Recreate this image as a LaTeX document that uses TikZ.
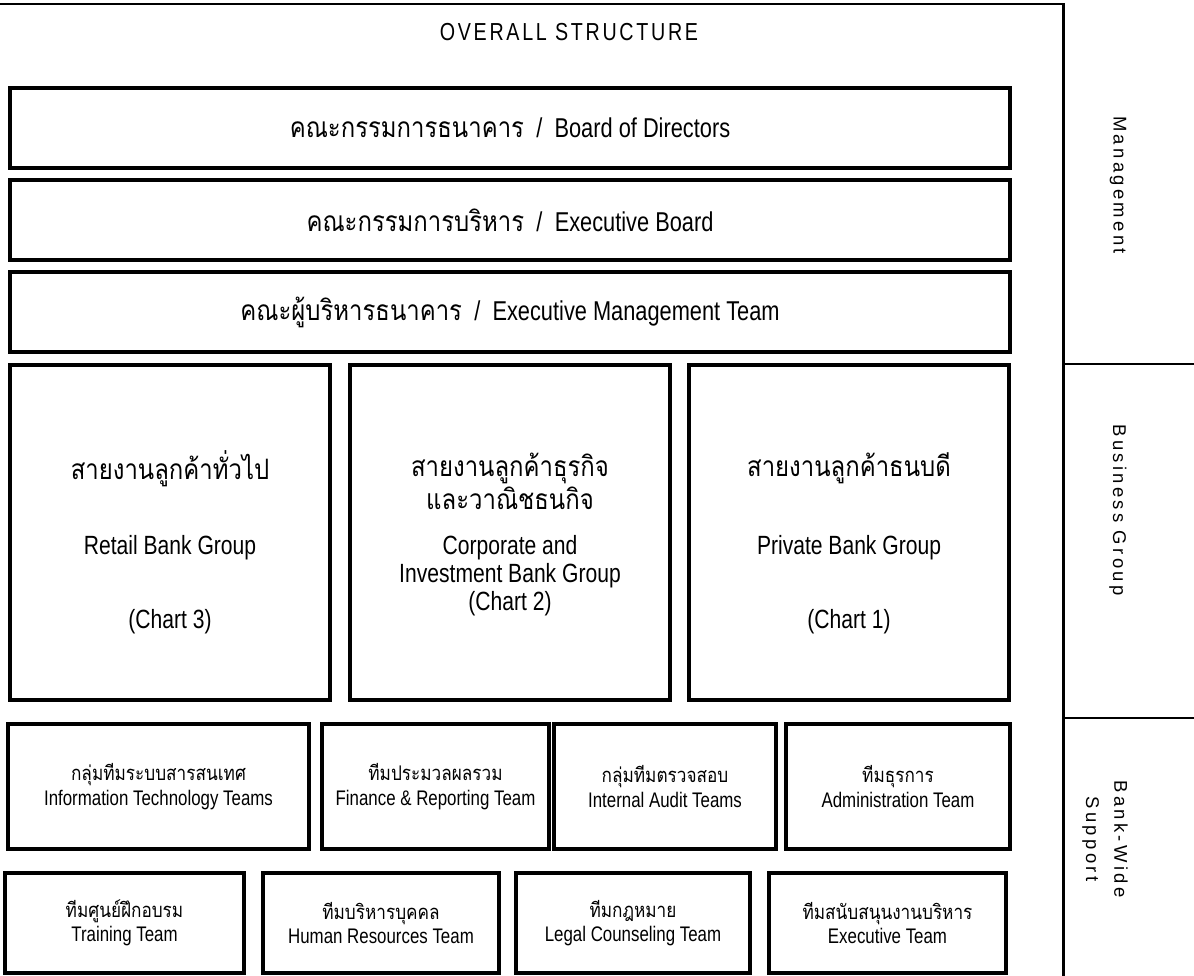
\documentclass[tikz,border=0pt]{standalone}
\usepackage{fontspec}
\setmainfont[FakeStretch=0.8]{Liberation Sans}
\newfontfamily\thaifont[Script=Thai,FakeStretch=0.85]{Loma}
\newfontfamily\sidefont[LetterSpace=18]{Liberation Sans}
\newfontfamily\titlefont[FakeStretch=0.8,LetterSpace=11]{Liberation Sans}
\newcommand{\thbig}[1]{{\thaifont\fontsize{16}{18}\selectfont #1}}
\newcommand{\thsmall}[1]{{\thaifont\fontsize{11.5}{14}\selectfont #1}}
\newcommand{\sep}{\hspace{0.45em}/\hspace{0.45em}}

\begin{document}
\begin{tikzpicture}[
	boardbox/.style={draw, line width=2.6pt, minimum width=20cm, minimum height=1.6cm, font=\fontsize{15.5}{18}\selectfont},
	groupbox/.style={draw, line width=2.6pt, minimum width=6.4cm, minimum height=6.7cm},
	grouptext/.style={font=\fontsize{15}{18}\selectfont, inner sep=1pt},
	teambox/.style={draw, line width=2.6pt, align=center, font=\fontsize{12}{14}\selectfont},
	sidelabel/.style={rotate=-90, align=center, font=\sidefont\fontsize{10.5}{16}\selectfont}]
		\path[fill=white, use as bounding box] (0,0) rectangle (23.88,-19.52);

		% Frame and side bands
		\draw[line width=1.7pt] (0,-0.08) -- (21.26,-0.08) -- (21.26,-19.52);
		\draw[line width=1.1pt] (21.26,-7.28) -- (23.88,-7.28);
		\draw[line width=1.1pt] (21.26,-14.36) -- (23.88,-14.36);
		\node[font=\titlefont\fontsize{14}{16}\selectfont] (title) at (11.38,-0.64) {OVERALL STRUCTURE};
		\node[sidelabel] (mgmtlabel) at (22.36,-3.7) {Management};
		\node[sidelabel] (bizlabel) at (22.36,-10.2) {Business Group};
		\node[sidelabel] (supportlabel) at (22.1,-16.78) {Bank-Wide\\Support};

		% Management boards
		\node[boardbox] (boardbox) at (10.2,-2.56) {\thbig{คณะกรรมการธนาคาร}\sep Board of Directors};
		\node[boardbox] (execbox) at (10.2,-4.4) {\thbig{คณะกรรมการบริหาร}\sep Executive Board};
		\node[boardbox] (mgmtbox) at (10.2,-6.24) {\thbig{คณะผู้บริหารธนาคาร}\sep Executive Management Team};

		% Business groups
		\node[groupbox] (retailbox) at (3.4,-10.65) {};
		\node[grouptext] at ([yshift=1.28cm]retailbox.center) {\thbig{สายงานลูกค้าทั่วไป}};
		\node[grouptext] at ([yshift=-0.3cm]retailbox.center) {Retail Bank Group};
		\node[grouptext] at ([yshift=-1.78cm]retailbox.center) {(Chart 3)};

		\node[groupbox] (corpbox) at (10.2,-10.65) {};
		\node[grouptext] at ([yshift=1.28cm]corpbox.center) {\thbig{สายงานลูกค้าธุรกิจ}};
		\node[grouptext] at ([yshift=0.68cm]corpbox.center) {\thbig{และวาณิชธนกิจ}};
		\node[grouptext] at ([yshift=-0.3cm]corpbox.center) {Corporate and};
		\node[grouptext] at ([yshift=-0.86cm]corpbox.center) {Investment Bank Group};
		\node[grouptext] at ([yshift=-1.42cm]corpbox.center) {(Chart 2)};

		\node[groupbox] (privbox) at (16.98,-10.65) {};
		\node[grouptext] at ([yshift=1.28cm]privbox.center) {\thbig{สายงานลูกค้าธนบดี}};
		\node[grouptext] at ([yshift=-0.3cm]privbox.center) {Private Bank Group};
		\node[grouptext] at ([yshift=-1.78cm]privbox.center) {(Chart 1)};

		% Bank-wide support teams
		\node[teambox, minimum width=6.02cm, minimum height=2.5cm] (itbox) at (3.17,-15.73) {\thsmall{กลุ่มทีมระบบสารสนเทศ}\\Information Technology Teams};
		\node[teambox, minimum width=4.54cm, minimum height=2.5cm] (financebox) at (8.71,-15.73) {\thsmall{ทีมประมวลผลรวม}\\Finance \& Reporting Team};
		\node[teambox, minimum width=4.44cm, minimum height=2.5cm] (auditbox) at (13.3,-15.73) {\thsmall{กลุ่มทีมตรวจสอบ}\\Internal Audit Teams};
		\node[teambox, minimum width=4.48cm, minimum height=2.5cm] (adminbox) at (17.96,-15.73) {\thsmall{ทีมธุรการ}\\Administration Team};

		\node[teambox, minimum width=4.78cm, minimum height=2cm] (trainbox) at (2.49,-18.46) {\thsmall{ทีมศูนย์ฝึกอบรม}\\Training Team};
		\node[teambox, minimum width=4.72cm, minimum height=2cm] (hrbox) at (7.62,-18.46) {\thsmall{ทีมบริหารบุคคล}\\Human Resources Team};
		\node[teambox, minimum width=4.68cm, minimum height=2cm] (legalbox) at (12.66,-18.46) {\thsmall{ทีมกฎหมาย}\\Legal Counseling Team};
		\node[teambox, minimum width=4.74cm, minimum height=2cm] (supportbox) at (17.75,-18.46) {\thsmall{ทีมสนับสนุนงานบริหาร}\\Executive Team};
	\end{tikzpicture}
\end{document}
